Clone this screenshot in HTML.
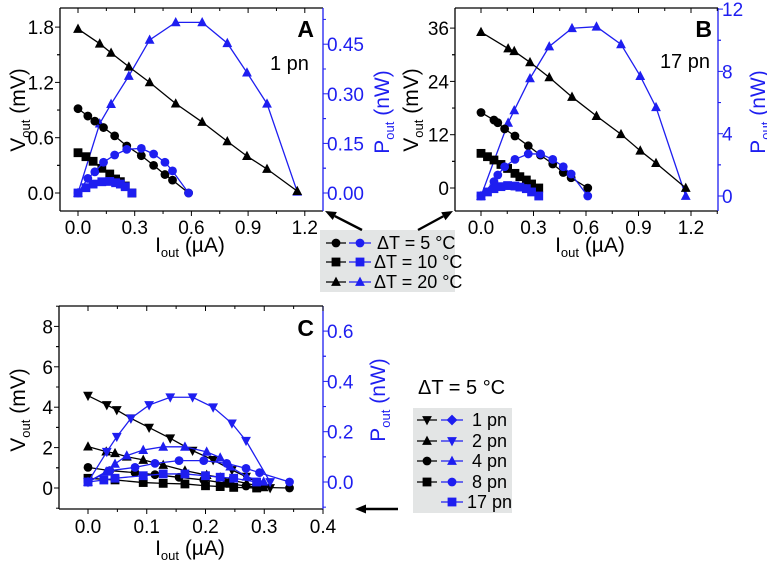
<!DOCTYPE html>
<html><head><meta charset="utf-8"><style>
body{margin:0;background:#fff;}
svg{display:block;font-family:"Liberation Sans",sans-serif;}
</style></head><body>
<svg id="fig" width="767" height="571" viewBox="0 0 767 571"></svg>
<script>
// ---------- data ----------
// Panel A (1 pn)
const aTriI=[0,0.115,0.175,0.269,0.379,0.517,0.657,0.79,0.894,1.0,1.16];
const aTriV=[1.78,1.62,1.52,1.37,1.20,0.97,0.77,0.56,0.40,0.26,0.02];
const aTriP=[0,0.21,0.269,0.354,0.463,0.516,0.516,0.453,0.364,0.27,0.004];
const aCirI=[0,0.052,0.089,0.135,0.194,0.258,0.335,0.40,0.46,0.50,0.585];
const aCirV=[0.915,0.835,0.78,0.71,0.62,0.51,0.405,0.30,0.20,0.14,0];
const aCirP=[0,0.044,0.064,0.093,0.115,0.132,0.135,0.118,0.093,0.067,0];
const aSqI=[0,0.042,0.08,0.126,0.168,0.199,0.224,0.25,0.285];
const aSqV=[0.437,0.394,0.344,0.268,0.206,0.152,0.123,0.076,0];
const aSqP=[0,0.016,0.027,0.034,0.035,0.031,0.027,0.019,0];
// Panel B (17 pn)
const bTriI=[0,0.155,0.19,0.28,0.39,0.52,0.66,0.8,0.91,1.0,1.17];
const bTriV=[35.1,31.4,30.8,28.3,24.9,20.5,16.2,12.1,8.4,5.6,0];
const bTriP=[0,4.7,5.5,7.55,9.6,10.77,10.87,9.74,7.7,5.7,0];
const bCirI=[0,0.074,0.096,0.135,0.194,0.27,0.34,0.41,0.47,0.515,0.61];
const bCirV=[17.0,15.3,14.7,13.3,11.7,9.5,7.4,5.4,3.5,2.3,0];
const bCirP=[0,0.92,1.35,1.88,2.35,2.70,2.70,2.35,1.88,1.41,0];
const bSqI=[0,0.037,0.074,0.114,0.152,0.194,0.222,0.259,0.289,0.33];
const bSqV=[7.8,7.05,6.3,5.3,4.4,3.3,2.55,1.8,0.9,0];
const bSqP=[0,0.26,0.47,0.6,0.67,0.64,0.57,0.47,0.26,0];
// Panel C (dT = 5 C)
const cDnI=[0,0.032,0.049,0.073,0.104,0.14,0.178,0.213,0.245,0.269,0.31];
const cDnV=[4.57,4.11,3.86,3.45,2.99,2.46,1.85,1.39,0.89,0.56,0];
const cDnP=[0,0.12,0.18,0.253,0.306,0.337,0.337,0.297,0.233,0.164,0];
const cUpI=[0,0.031,0.046,0.066,0.094,0.128,0.165,0.202,0.225,0.242,0.27,0.299];
const cUpV=[2.05,1.80,1.72,1.55,1.39,1.14,0.86,0.64,0.52,0.40,0.23,0.03];
const cUpP=[0,0.041,0.072,0.105,0.127,0.14,0.14,0.12,0.097,0.061,0.021,0.001];
const cCirI=[0,0.037,0.08,0.114,0.155,0.197,0.236,0.269,0.292,0.343];
const cCirV=[1.02,0.86,0.76,0.66,0.53,0.40,0.23,0.10,0.03,0];
const cCirP=[0,0.045,0.058,0.074,0.085,0.085,0.074,0.054,0.037,0];
const cSqI=[0,0.046,0.094,0.128,0.165,0.2,0.225,0.248,0.287];
const cSqV=[0.48,0.40,0.27,0.23,0.20,0.11,0.07,0.03,0];
const cSqPI=[0,0.027,0.046,0.094,0.128,0.165,0.2,0.225,0.248,0.287];
const cSqP=[0,0.008,0.015,0.025,0.032,0.032,0.025,0.019,0.015,0];
// tick labels
const aXTicks=["0.0","0.3","0.6","0.9","1.2"];
const aYTicks=["0.0","0.6","1.2","1.8"];
const aPTicks=["0.00","0.15","0.30","0.45"];
const bYTicks=["0","12","24","36"];
const bPTicks=["0","4","8","12"];
const cXTicks=["0.0","0.1","0.2","0.3","0.4"];
const cYTicks=["0","2","4","6","8"];
const cPTicks=["0.0","0.2","0.4","0.6"];

const NS="http://www.w3.org/2000/svg";
const svg=document.getElementById('fig');
const BLUE="#1e1ef0";
const TF=19, TT=21;
function mk(tag,attrs,parent){const e=document.createElementNS(NS,tag);for(const k in attrs)e.setAttribute(k,attrs[k]);(parent||svg).appendChild(e);return e;}
function marker(g,shape,x,y,color){
  let e;const s=4.4;
  if(shape==='c'){e=mk('circle',{cx:x,cy:y,r:s,fill:color},g);}
  else if(shape==='s'){e=mk('rect',{x:x-s,y:y-s,width:2*s,height:2*s,fill:color},g);}
  else if(shape==='u'){e=mk('polygon',{points:`${x},${y-s-1} ${x+s+0.5},${y+s-0.5} ${x-s-0.5},${y+s-0.5}`,fill:color},g);}
  else if(shape==='d'){e=mk('polygon',{points:`${x},${y+s+1} ${x+s+0.5},${y-s+0.5} ${x-s-0.5},${y-s+0.5}`,fill:color},g);}
  else {e=mk('polygon',{points:`${x},${y-s-1} ${x+s+1},${y} ${x},${y+s+1} ${x-s-1},${y}`,fill:color},g);}
  
  
}
function series(name,xs,ys,fx,fy,shape,color){
  const g=mk('g',{});
  
  
  const pts=xs.map((v,i)=>fx(v)+','+fy(ys[i])).join(' ');
  mk('polyline',{points:pts,fill:'none',stroke:color,'stroke-width':1.3},g);
  xs.forEach((v,i)=>marker(g,shape,fx(v),fy(ys[i]),color));
}
function text(str,x,y,opts,name){
  const t=mk('text',Object.assign({x:x,y:y,'font-size':TF},opts||{}));
  t.textContent=str;
  
  
  return t;
}
function rich(parts,x,y,opts,name){
  const t=mk('text',Object.assign({x:x,y:y,'font-size':TT},opts||{}));
  parts.forEach(p=>{const ts=mk('tspan',p.sub?{'font-size':13,dy:5}:(p.back?{dy:-5}:{}),t);ts.textContent=p.t;});
  
  
  return t;
}
function panel(P){
  const g=mk('g',{});
  
  
  const {L,R,T,B}=P;
  mk('line',{x1:L,y1:T,x2:R,y2:T,stroke:'#000','stroke-width':1.3},g);
  mk('line',{x1:L,y1:T,x2:L,y2:B,stroke:'#000','stroke-width':1.3},g);
  mk('line',{x1:L,y1:B,x2:R,y2:B,stroke:'#000','stroke-width':1.3},g);
  mk('line',{x1:R,y1:T,x2:R,y2:B,stroke:BLUE,'stroke-width':1.3},g);
  P.xt.forEach((lab,i)=>{
    const v=P.xstep*i,x=P.fx(v);
    mk('line',{x1:x,y1:B,x2:x,y2:B+5,stroke:'#000'},g);
    mk('line',{x1:x,y1:T,x2:x,y2:T+5,stroke:'#000'},g);
    const xm=P.fx(v+P.xstep/2);
    if(xm<R){mk('line',{x1:xm,y1:B,x2:xm,y2:B+3,stroke:'#000'},g);mk('line',{x1:xm,y1:T,x2:xm,y2:T+3,stroke:'#000'},g);}
    const xm2=P.fx(v-P.xstep/2);
    if(i===0&&xm2>L){mk('line',{x1:xm2,y1:B,x2:xm2,y2:B+3,stroke:'#000'},g);mk('line',{x1:xm2,y1:T,x2:xm2,y2:T+3,stroke:'#000'},g);}
    text(lab,x,B+P.xlo,{'text-anchor':'middle'},'x-tick-label');
  });
  P.yt.forEach((lab,i)=>{
    const v=P.ystep*i,y=P.fy(v);
    mk('line',{x1:L-5,y1:y,x2:L,y2:y,stroke:'#000'},g);
    const ym=P.fy(v+P.ystep/2);
    if(ym>T)mk('line',{x1:L-3,y1:ym,x2:L,y2:ym,stroke:'#000'},g);
    const ym2=P.fy(v-P.ystep/2);
    if(ym2<B)mk('line',{x1:L-3,y1:ym2,x2:L,y2:ym2,stroke:'#000'},g);
    text(lab,L-6,y+7,{'text-anchor':'end'},'y-tick-label');
  });
  P.pt.forEach((lab,i)=>{
    const v=P.pstep*i,y=P.fp(v);
    mk('line',{x1:R,y1:y,x2:R+5,y2:y,stroke:BLUE},g);
    const ym=P.fp(v+P.pstep/2);
    if(ym>T)mk('line',{x1:R,y1:ym,x2:R+3,y2:ym,stroke:BLUE},g);
    const ym2=P.fp(v-P.pstep/2);
    if(ym2<B)mk('line',{x1:R,y1:ym2,x2:R+3,y2:ym2,stroke:BLUE},g);
    text(lab,R+4,y+7,{fill:BLUE},'p-tick-label');
  });
  rich([{t:'I'},{t:'out',sub:true},{t:' (µA)',back:true}],P.xtx,P.xty,{'text-anchor':'middle'},'x-axis-title');
  rich([{t:'V'},{t:'out',sub:true},{t:' (mV)',back:true}],0,0,{'text-anchor':'middle',transform:`translate(${P.ytx},${P.yty}) rotate(-90)`},'y-axis-title');
  rich([{t:'P'},{t:'out',sub:true},{t:' (nW)',back:true}],0,0,{'text-anchor':'middle',fill:BLUE,transform:`translate(${P.ptx},${P.pty}) rotate(-90)`},'p-axis-title');
}
// ---------- Panel A ----------
const A={name:'panel-a',L:60,R:323,T:8,B:211,fx:v=>78+v*189,fy:v=>193-v/0.6*55.3,fp:v=>193-v/0.15*49.6,
  xt:aXTicks,xstep:0.3,yt:aYTicks,ystep:0.6,pt:aPTicks,pstep:0.15,xlo:23,xtx:190,xty:252,ytx:25,yty:110,ptx:389,pty:112};
panel(A);
series('a-power-20C',aTriI,aTriP,A.fx,A.fp,'u',BLUE);
series('a-voltage-20C',aTriI,aTriV,A.fx,A.fy,'u','#000');
series('a-voltage-5C',aCirI,aCirV,A.fx,A.fy,'c','#000');
series('a-voltage-10C',aSqI,aSqV,A.fx,A.fy,'s','#000');
series('a-power-5C',aCirI,aCirP,A.fx,A.fp,'c',BLUE);
series('a-power-10C',aSqI,aSqP,A.fx,A.fp,'s',BLUE);
text('A',314,37,{'font-size':23,'font-weight':'bold','text-anchor':'end'},'panel-a-letter');
text('1 pn',270,70,{'font-size':20},'panel-a-subtitle');
// ---------- Panel B ----------
const Bp={name:'panel-b',L:455,R:718,T:8,B:211,fx:v=>481+v*175,fy:v=>188-v/12*53.3,fp:v=>196-v/4*62.3,
  xt:aXTicks,xstep:0.3,yt:bYTicks,ystep:12,pt:bPTicks,pstep:4,xlo:23,xtx:590,xty:252,ytx:418,yty:110,ptx:765,pty:112};
panel(Bp);
series('b-power-20C',bTriI,bTriP,Bp.fx,Bp.fp,'u',BLUE);
series('b-voltage-20C',bTriI,bTriV,Bp.fx,Bp.fy,'u','#000');
series('b-voltage-5C',bCirI,bCirV,Bp.fx,Bp.fy,'c','#000');
series('b-voltage-10C',bSqI,bSqV,Bp.fx,Bp.fy,'s','#000');
series('b-power-5C',bCirI,bCirP,Bp.fx,Bp.fp,'c',BLUE);
series('b-power-10C',bSqI,bSqP,Bp.fx,Bp.fp,'s',BLUE);
text('B',712,37,{'font-size':23,'font-weight':'bold','text-anchor':'end'},'panel-b-letter');
text('17 pn',710,68,{'font-size':20,'text-anchor':'end'},'panel-b-subtitle');
// ---------- Panel C ----------
const C={name:'panel-c',L:59,R:323,T:306,B:509,fx:v=>88+v*587.5,fy:v=>488-v*20.2,fp:v=>482-v*251.5,
  xt:cXTicks,xstep:0.1,yt:cYTicks,ystep:2,pt:cPTicks,pstep:0.2,xlo:24,xtx:190,xty:555,ytx:25,yty:410,ptx:385,pty:400};
panel(C);
series('c-voltage-sq',cSqI,cSqV,C.fx,C.fy,'s','#000');
series('c-voltage-cir',cCirI,cCirV,C.fx,C.fy,'c','#000');
series('c-voltage-up',cUpI,cUpV,C.fx,C.fy,'u','#000');
series('c-voltage-down',cDnI,cDnV,C.fx,C.fy,'d','#000');
series('c-power-sq',cSqPI,cSqP,C.fx,C.fp,'s',BLUE);
series('c-power-cir',cCirI,cCirP,C.fx,C.fp,'c',BLUE);
series('c-power-up',cUpI,cUpP,C.fx,C.fp,'u',BLUE);
series('c-power-down',cDnI,cDnP,C.fx,C.fp,'d',BLUE);
text('C',314,336,{'font-size':23,'font-weight':'bold','text-anchor':'end'},'panel-c-letter');
// ---------- Legends ----------
function legRow(g,y,bshape,pshape,bx,px,label,tx){
  if(bshape){mk('line',{x1:bx-10,y1:y,x2:bx+10,y2:y,stroke:'#000','stroke-width':1.3},g);marker(g,bshape,bx,y,'#000');}
  mk('line',{x1:px-11,y1:y,x2:px+11,y2:y,stroke:BLUE,'stroke-width':1.3},g);marker(g,pshape,px,y,BLUE);
  text(label,tx,y+6,{'font-size':18},'legend-label');
}
const lg=mk('g',{});


mk('rect',{x:320,y:230,width:135,height:62,fill:'#e3e5e5'},lg);
legRow(lg,243,'c','c',336,360,'ΔT =  5 °C',377);
legRow(lg,262,'s','s',336,360,'ΔT = 10 °C',374);
legRow(lg,282,'u','u',336,360,'ΔT = 20 °C',374);
const lc=mk('g',{});


text('ΔT = 5 °C',418,394,{'font-size':20},'legend-c-title');
mk('rect',{x:413,y:408,width:99,height:105,fill:'#e3e5e5'},lc);
legRow(lc,420,'d','dia',427,452,'1 pn',472);
legRow(lc,441,'u','d',427,452,'2 pn',472);
legRow(lc,461,'c','u',427,452,'4 pn',472);
legRow(lc,482,'s','c',427,452,'8 pn',472);
legRow(lc,502,null,'s',427,452,'17 pn',467);
function arrow(x1,y1,x2,y2,name){
  const g=mk('g',{});
  
  
  const a=Math.atan2(y2-y1,x2-x1),h=11,w=4.5;
  const bx=x2-h*Math.cos(a),by=y2-h*Math.sin(a);
  mk('line',{x1:x1,y1:y1,x2:bx,y2:by,stroke:'#000','stroke-width':2.4},g);
  mk('polygon',{points:`${x2},${y2} ${bx-w*Math.sin(a)},${by+w*Math.cos(a)} ${bx+w*Math.sin(a)},${by-w*Math.cos(a)}`,fill:'#000'},g);
}
arrow(362,230,325,211,'arrow-to-a');
arrow(418,230,453,211,'arrow-to-b');
arrow(398,509,355,509,'arrow-to-c');
</script>
</body></html>
